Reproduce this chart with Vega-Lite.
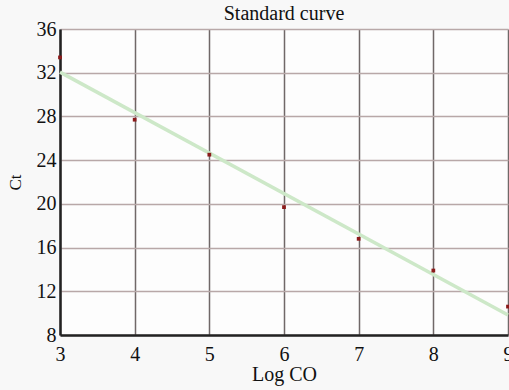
{
  "$schema": "https://vega.github.io/schema/vega-lite/v6.json",
  "autosize": "none",
  "width": 448,
  "height": 306,
  "padding": {"left": 60, "top": 29, "right": 1, "bottom": 55},
  "background": "#f8f8f8",
  "title": {"text": "Standard curve", "font": "Liberation Serif", "fontSize": 20, "fontWeight": "normal", "color": "#111111", "offset": -5, "anchor": "middle"},
  "config": {
    "view": {"stroke": null, "fill": "#fdfdfd"},
    "axis": {"labelFont": "Liberation Serif", "titleFont": "Liberation Serif", "labelColor": "#111111", "titleColor": "#111111", "titleFontWeight": "normal", "ticks": false}
  },
  "data": {"values": [
    {"logco": 3, "ct": 33.4},
    {"logco": 4, "ct": 27.7},
    {"logco": 5, "ct": 24.5},
    {"logco": 6, "ct": 19.7},
    {"logco": 7, "ct": 16.8},
    {"logco": 8, "ct": 13.9},
    {"logco": 9, "ct": 10.6}
  ]},
  "layer": [
    {
      "transform": [{"regression": "ct", "on": "logco"}],
      "mark": {"type": "line", "color": "#cde8c8", "strokeWidth": 3.5},
      "encoding": {
        "x": {"field": "logco", "type": "quantitative", "scale": {"domain": [3, 9], "nice": false, "zero": false},
          "axis": {"title": "Log CO", "titleFontSize": 20, "titlePadding": 0, "labelFontSize": 20, "labelPadding": 9, "format": "d", "values": [3,4,5,6,7,8,9], "grid": true, "gridColor": "#706868", "gridWidth": 1.5, "domainColor": "#222222", "domainWidth": 2.5, "labelFlush": false}},
        "y": {"field": "ct", "type": "quantitative", "scale": {"domain": [8, 36], "nice": false, "zero": false},
          "axis": {"title": "Ct", "titleFontSize": 17, "titlePadding": 12, "labelFontSize": 20, "labelPadding": 4, "format": "d", "values": [8,12,16,20,24,28,32,36], "grid": true, "gridColor": "#b8a8a8", "gridWidth": 1.5, "domainColor": "#222222", "domainWidth": 2.5, "labelFlush": false}}
      }
    },
    {
      "mark": {"type": "point", "shape": "square", "filled": true, "size": 14, "color": "#8b1a1a", "opacity": 1},
      "encoding": {
        "x": {"field": "logco", "type": "quantitative"},
        "y": {"field": "ct", "type": "quantitative"}
      }
    }
  ]
}
